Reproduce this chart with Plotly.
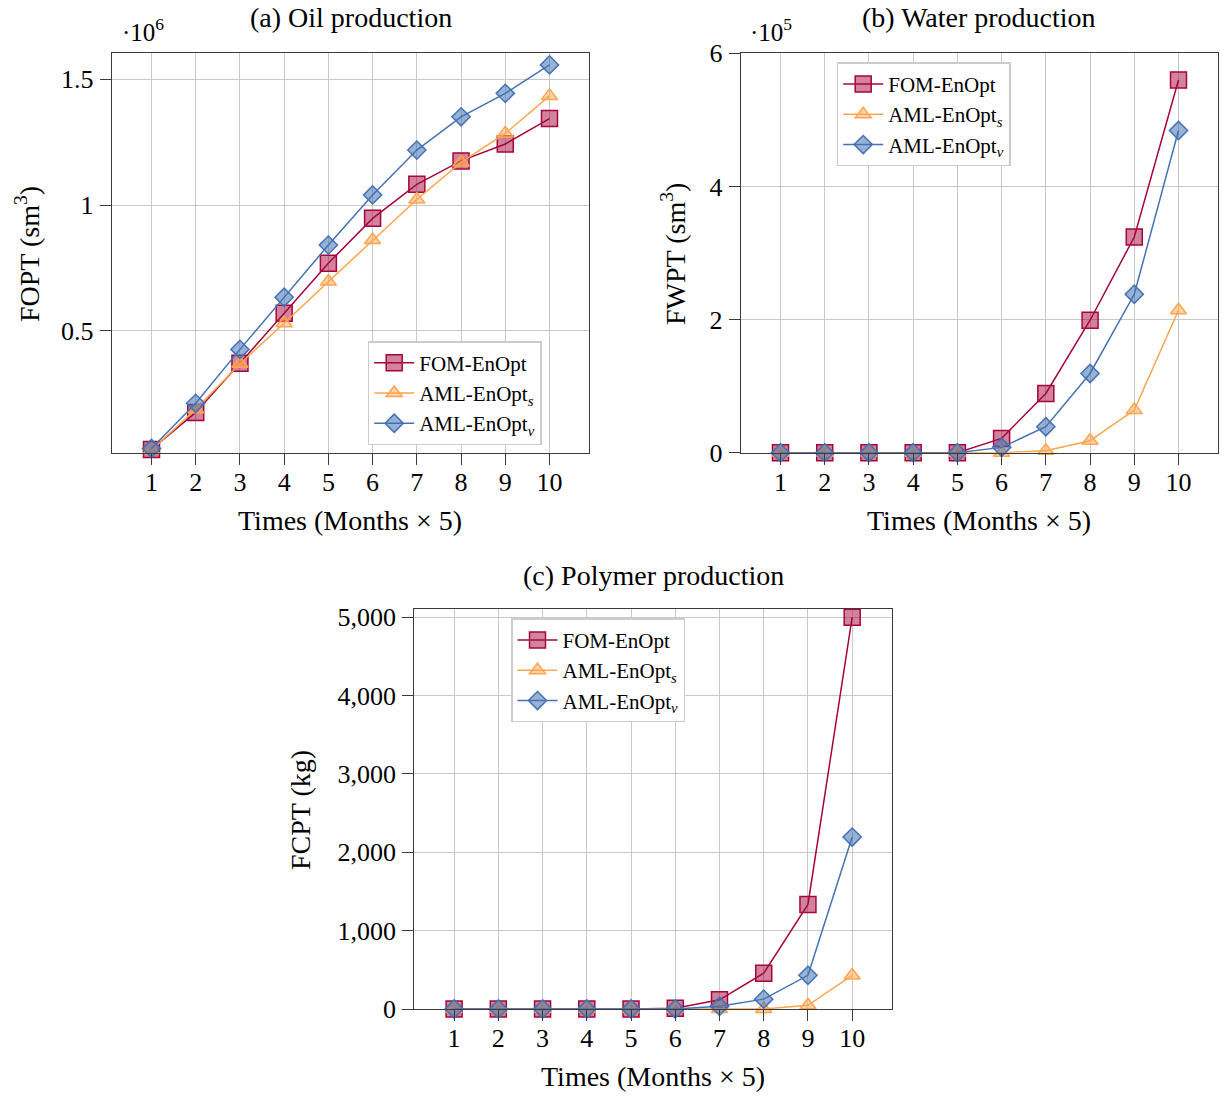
import plotly.graph_objects as go

# ---------------- data ----------------
times = [1, 2, 3, 4, 5, 6, 7, 8, 9, 10]

# (a) Oil production, in units of 1e6 sm^3
fopt_fom = [0.030, 0.177, 0.372, 0.570, 0.769, 0.947, 1.082, 1.175, 1.242, 1.343]
fopt_aml_s = [0.028, 0.189, 0.370, 0.531, 0.696, 0.861, 1.022, 1.169, 1.284, 1.433]
fopt_aml_v = [0.034, 0.213, 0.427, 0.634, 0.841, 1.040, 1.218, 1.350, 1.443, 1.556]

# (b) Water production, in units of 1e5 sm^3
fwpt_fom = [0.0, 0.0, 0.0, 0.0, 0.0, 0.215, 0.89, 1.99, 3.24, 5.60]
fwpt_aml_s = [0.0, 0.0, 0.0, 0.0, 0.0, 0.0, 0.03, 0.18, 0.64, 2.14]
fwpt_aml_v = [0.0, 0.0, 0.0, 0.0, 0.0, 0.08, 0.39, 1.19, 2.38, 4.84]

# (c) Polymer production, kg
fcpt_fom = [0, 0, 0, 0, 0, 10, 117, 457, 1334, 5000]
fcpt_aml_s = [0, 0, 0, 0, 0, 0, 0, 0, 47, 428]
fcpt_aml_v = [0, 0, 0, 0, 0, 0, 34, 126, 430, 2194]

series_names = ["FOM-EnOpt", "AML-EnOpt<sub><i>s</i></sub>", "AML-EnOpt<sub><i>v</i></sub>"]

# ---------------- styles ----------------
W, H = 1224, 1097
FONT = "Liberation Serif"
styles = [
    dict(line="#A6053A", fill="rgba(166,5,58,0.5)", symbol="square", size=16),
    dict(line="#FFA54F", fill="rgba(255,165,79,0.5)", symbol="triangle-up", size=14),
    dict(line="#4472B4", fill="rgba(68,114,180,0.55)", symbol="diamond", size=14),
]

def px_x(p):
    return p / W

def px_y(p):
    return 1 - p / H

fig = go.Figure()

panels = [
    dict(data=[fopt_fom, fopt_aml_s, fopt_aml_v], xa="x", ya="y", legend="legend"),
    dict(data=[fwpt_fom, fwpt_aml_s, fwpt_aml_v], xa="x2", ya="y2", legend="legend2"),
    dict(data=[fcpt_fom, fcpt_aml_s, fcpt_aml_v], xa="x3", ya="y3", legend="legend3"),
]

for pnl in panels:
    for name, vals, st in zip(series_names, pnl["data"], styles):
        fig.add_trace(go.Scatter(
            x=times, y=vals, name=name, mode="lines+markers",
            xaxis=pnl["xa"], yaxis=pnl["ya"], legend=pnl["legend"],
            line=dict(color=st["line"], width=1.5),
            marker=dict(symbol=st["symbol"], size=st["size"], color=st["fill"],
                        line=dict(color=st["line"], width=1.5)),
            cliponaxis=False,
        ))

axis_common = dict(
    showgrid=True, gridcolor="#c8c8c8", gridwidth=1,
    showline=True, linecolor="#3a3a3a", linewidth=1.2, mirror=True,
    ticks="outside", ticklen=11, tickcolor="#3a3a3a", tickwidth=1,
    zeroline=False, tickfont=dict(family=FONT, size=26, color="black"),
    automargin=False,
)

xdomA = [px_x(111.7), px_x(589.3)]
xdomB = [px_x(740.7), px_x(1218.3)]
xdomC = [px_x(414.3), px_x(892.0)]
ydomTop = [px_y(452.7), px_y(53.3)]
ydomBot = [px_y(1009.0), px_y(609.3)]

xcommon = dict(axis_common, range=[0.1, 10.9], tickvals=times, ticklabelstandoff=-5)
ycommon = dict(axis_common, ticklabelstandoff=1)

fig.update_layout(
    width=W, height=H,
    margin=dict(l=0, r=0, t=0, b=0, pad=0, autoexpand=False),
    paper_bgcolor="white", plot_bgcolor="white",
    font=dict(family=FONT, size=20, color="black"),
    xaxis=dict(xcommon, domain=xdomA, anchor="y"),
    yaxis=dict(ycommon, domain=ydomTop, anchor="x", range=[0.017, 1.602],
               tickvals=[0.5, 1, 1.5], ticktext=["0.5", "1", "1.5"]),
    xaxis2=dict(xcommon, domain=xdomB, anchor="y2"),
    yaxis2=dict(ycommon, domain=ydomTop, anchor="x2", range=[0, 6],
                tickvals=[0, 2, 4, 6], ticktext=["0", "2", "4", "6"]),
    xaxis3=dict(xcommon, domain=xdomC, anchor="y3"),
    yaxis3=dict(ycommon, domain=ydomBot, anchor="x3", range=[0, 5100],
                tickvals=[0, 1000, 2000, 3000, 4000, 5000], tickformat=","),
    showlegend=True,
)

legend_common = dict(
    bgcolor="white", bordercolor="#cccccc", borderwidth=1.5,
    font=dict(family=FONT, size=21, color="black"),
    xanchor="left", yanchor="top", itemwidth=40, tracegroupgap=0,
    entrywidth=160, entrywidthmode="pixels",
)
fig.update_layout(
    legend=dict(legend_common, x=px_x(367.7), y=px_y(341)),
    legend2=dict(legend_common, x=px_x(836.7), y=px_y(62.3)),
    legend3=dict(legend_common, x=px_x(511), y=px_y(618.3)),
)

def ann(text, x, y, size=28, angle=0):
    fig.add_annotation(text=text, x=px_x(x), y=px_y(y), xref="paper", yref="paper",
                       showarrow=False, textangle=angle, xanchor="center", yanchor="middle",
                       font=dict(family=FONT, size=size, color="black"))

# titles
ann("(a) Oil production", 351, 18)
ann("(b) Water production", 979, 18)
ann("(c) Polymer production", 653, 575)
# scale labels
ann("·10<sup>6</sup>", 143, 30, size=25)
ann("·10<sup>5</sup>", 771, 30, size=25)
# axis titles
ann("Times (Months × 5)", 350, 520)
ann("Times (Months × 5)", 979, 520)
ann("Times (Months × 5)", 653, 1076)
ann("FOPT (sm<sup>3</sup>)", 27, 254, angle=-90)
ann("FWPT (sm<sup>3</sup>)", 673, 254, angle=-90)
ann("FCPT (kg)", 300, 810, angle=-90)

fig.write_html("out.html")
